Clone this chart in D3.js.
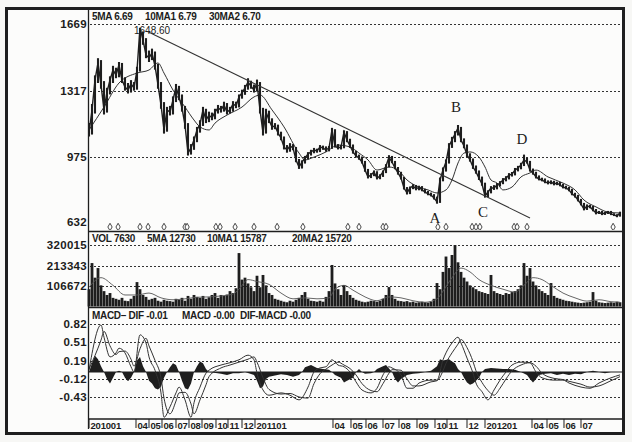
<!DOCTYPE html>
<html><head><meta charset="utf-8">
<script src="https://cdn.jsdelivr.net/npm/d3@7"></script>
<style>
html,body{margin:0;padding:0;background:#f7f7f5;}
svg{display:block;}
text{font-family:"Liberation Sans",Arial,sans-serif;fill:#1c1c1c;}
</style></head><body>
<svg id="c" width="632" height="442"></svg>
<script>
// ---------- DATA ----------
const closePx = [
1098,1219,1376,1465,1350,1219,1313,1376,1428,1402,
1454,1376,1339,1323,1355,1334,1428,1648.6,1585,1507,
1491,1517,1449,1350,1245,1114,1219,1208,1271,1339,
1287,1229,1140,993,1020,1061,1114,1145,1219,1166,
1192,1177,1208,1229,1219,1245,1208,1219,1250,1240,
1287,1308,1334,1365,1344,1323,1360,1219,1098,1208,
1166,1130,1135,1098,1072,1025,1009,1030,1020,957,
920,946,967,988,999,1009,1004,1025,1020,1009,
1020,1114,1030,1020,1025,1103,1061,1030,999,978,
967,946,904,868,878,894,862,873,894,925,
972,946,915,889,862,810,784,810,821,805,
815,800,789,779,773,758,737,852,904,946,
1030,1061,1093,1124,1061,1030,983,957,920,894,
862,831,768,789,810,810,826,836,852,862,
878,883,904,915,931,957,946,904,889,868,
857,852,842,836,842,831,836,826,815,810,
800,779,768,747,726,700,716,711,695,679,
684,674,679,684,674,669,663,679];

const highPx = [
1150,1250,1400,1490,1480,1370,1335,1395,1450,1440,
1470,1465,1390,1360,1375,1365,1445,1648.6,1630,1595,
1530,1540,1525,1460,1365,1260,1235,1240,1290,1355,
1345,1300,1240,1150,1040,1080,1130,1165,1235,1225,
1210,1205,1225,1245,1240,1262,1255,1235,1265,1262,
1300,1325,1350,1385,1372,1352,1378,1365,1230,1225,
1215,1175,1150,1142,1105,1080,1035,1045,1040,1025,
962,955,978,998,1010,1020,1016,1035,1032,1028,
1030,1125,1118,1040,1035,1112,1108,1068,1038,1005,
985,975,952,910,888,902,898,882,902,935,
982,978,952,920,895,868,815,818,830,826,
822,820,806,795,786,778,765,865,918,960,
1045,1078,1108,1140,1130,1070,1038,992,965,928,
902,870,838,798,820,825,836,846,862,872,
888,894,915,926,942,985,968,952,912,895,
876,864,860,850,850,848,843,842,832,822,
816,806,785,774,753,732,724,722,716,700,
690,690,685,690,690,678,673,686];

const lowPx = [
1080,1090,1200,1360,1330,1195,1205,1300,1360,1385,
1390,1360,1320,1305,1310,1320,1325,1420,1560,1490,
1470,1480,1430,1330,1225,1095,1105,1190,1195,1260,
1270,1210,1120,980,985,1010,1050,1100,1135,1150,
1155,1165,1170,1200,1205,1210,1195,1200,1210,1228,
1232,1278,1298,1325,1330,1310,1315,1200,1085,1095,
1150,1115,1118,1085,1060,1012,995,1000,1008,945,
910,912,938,960,980,992,995,998,1010,1000,
1002,1015,1022,1012,1012,1018,1050,1020,990,970,
958,938,895,860,862,872,855,856,868,888,
918,940,908,880,855,802,776,778,804,798,
798,793,782,772,766,750,728,732,845,896,
938,1020,1050,1085,1050,1018,972,948,910,885,
852,822,760,762,782,800,803,818,830,845,
855,870,876,897,908,925,938,896,880,860,
850,845,835,829,830,824,825,819,808,803,
793,772,760,740,719,693,695,704,688,672,
674,668,669,674,668,663,657,660];

const maIdx = [0,5,10,16,20,23,25,28,32,35,37,40,42,46,51,55,57,61,65,70,72,75,79,83,87,90,93,96,100,103,106,110,113,116,119,121,123,125,127,130,132,134,136,138,141,144,147,149,153,158,162,165,169,173,177];
const maVal = [1114,1234,1360,1412,1428,1465,1412,1323,1234,1166,1130,1114,1150,1192,1234,1287,1297,1219,1130,993,957,972,999,1035,1025,993,957,904,920,904,852,815,800,784,800,852,941,993,999,972,920,852,836,800,815,868,889,904,868,836,800,747,711,684,679];

const volume = [
90000,226000,150000,200000,110000,80000,60000,70000,45000,40000,
35000,45000,30000,28000,40000,55000,127000,90000,60000,50000,
35000,40000,45000,30000,25000,35000,30000,28000,25000,40000,
35000,45000,30000,55000,40000,60000,50000,45000,55000,40000,
48000,60000,70000,45000,60000,55000,62000,80000,70000,95000,
278000,140000,150000,120000,100000,80000,160000,100000,164000,110000,
70000,60000,40000,35000,30000,25000,22000,30000,25000,35000,
45000,60000,75000,40000,30000,28000,25000,30000,25000,50000,
80000,216000,120000,90000,60000,112000,80000,60000,45000,35000,
30000,25000,22000,25000,30000,28000,25000,30000,40000,60000,
101000,60000,40000,30000,28000,25000,28000,22000,25000,20000,
22000,25000,22000,20000,25000,40000,122000,90000,180000,260000,
200000,268000,320000,230000,180000,150000,130000,110000,100000,90000,
80000,75000,70000,65000,164000,80000,70000,65000,60000,70000,
65000,75000,80000,90000,110000,226000,160000,200000,130000,110000,
90000,80000,70000,60000,122000,55000,45000,40000,35000,30000,
28000,25000,22000,20000,18000,20000,22000,25000,75000,30000,
22000,20000,18000,20000,22000,20000,25000,22000];

const vmaIdx = [0,4,8,12,16,20,24,28,32,36,40,44,48,50,53,56,60,64,68,72,76,80,82,85,88,92,96,100,104,108,112,116,118,121,124,127,130,134,138,142,145,148,151,154,158,162,166,170,174,177];
const vmaVal = [100000,150000,110000,60000,60000,70000,45000,35000,40000,48000,50000,55000,65000,90000,140000,130000,115000,70000,40000,45000,40000,45000,90000,110000,85000,50000,30000,50000,45000,30000,22000,40000,80000,150000,200000,180000,140000,110000,90000,75000,110000,150000,140000,110000,70000,45000,28000,35000,25000,22000];

const macdIdx = [0,4,5,7,9,10,12,14,15,17,19,20,22,24,25,27,29,30,32,34,35,37,39,40,44,47,50,53,55,56,58,60,64,67,70,73,75,77,79,81,83,85,87,89,91,94,96,98,100,101,104,106,108,110,114,116,118,119,121,123,124,126,128,129,131,133,135,137,139,141,144,147,149,151,155,158,160,164,167,170,174,177];
const dif = [0.03,0.81,0.60,0.26,0.33,0.41,0.33,0.09,0.00,0.64,0.50,0.26,0.03,-0.36,-0.78,-0.60,-0.36,-0.26,-0.48,-0.78,-0.53,-0.26,-0.02,0.03,0.12,0.16,0.21,0.29,0.21,-0.02,-0.31,-0.40,-0.36,-0.40,-0.48,-0.26,0.00,0.07,0.09,0.21,0.12,0.09,0.00,-0.17,-0.31,-0.36,-0.28,-0.05,0.09,0.07,-0.05,-0.28,-0.28,-0.19,-0.14,-0.14,0.21,0.33,0.50,0.60,0.50,0.24,-0.02,-0.19,-0.34,-0.48,-0.31,-0.14,0.00,0.12,0.17,0.16,0.00,-0.10,-0.14,-0.14,-0.19,-0.26,-0.28,-0.19,-0.10,-0.05];
const dea = [0.05,0.55,0.70,0.45,0.30,0.35,0.36,0.22,0.10,0.40,0.58,0.45,0.20,-0.10,-0.45,-0.72,-0.50,-0.36,-0.35,-0.55,-0.72,-0.48,-0.22,-0.08,0.07,0.12,0.17,0.22,0.26,0.17,-0.10,-0.30,-0.38,-0.37,-0.43,-0.45,-0.20,-0.03,0.05,0.12,0.17,0.12,0.06,-0.05,-0.20,-0.32,-0.34,-0.20,-0.02,0.04,0.03,-0.12,-0.24,-0.24,-0.17,-0.15,0.02,0.15,0.33,0.48,0.56,0.42,0.18,0.02,-0.18,-0.32,-0.40,-0.28,-0.12,0.02,0.12,0.16,0.10,-0.02,-0.11,-0.13,-0.16,-0.21,-0.26,-0.24,-0.15,-0.08];

const histIdx = [0,1,2,3,4,5,6,7,8,9,10,11,12,13,14,15,16,17,18,19,20,21,22,23,24,25,26,27,28,29,30,31,32,33,34,35,36,37,38,39,40,44,46,48,50,52,55,56,57,58,59,60,62,64,66,68,70,71,72,74,76,78,80,81,82,84,85,86,88,89,90,91,92,94,95,96,98,99,100,101,102,103,104,106,108,110,112,114,116,117,118,120,121,122,123,124,125,126,127,128,129,130,131,132,134,136,138,140,142,144,146,147,148,149,150,152,154,156,158,160,162,164,166,168,170,172,174,177];
const histVal = [0,0.15,0.28,0.22,0.1,0,-0.12,-0.2,-0.1,0,0.02,0,-0.1,-0.16,-0.1,0,0.2,0.26,0.1,0,-0.15,-0.2,-0.28,-0.3,-0.25,-0.1,0,0.08,0.15,0.12,0,-0.15,-0.28,-0.3,-0.2,0,0.1,0.18,0.15,0.05,0,-0.03,-0.05,-0.02,-0.02,0,-0.05,-0.15,-0.28,-0.25,-0.12,-0.08,-0.06,-0.04,-0.05,-0.08,-0.05,0,0.08,0.12,0.07,0.05,0.04,0,-0.05,-0.1,-0.18,-0.15,-0.1,0,0.05,0,-0.03,-0.02,0,0.05,0.1,0.12,0.06,0,-0.12,-0.18,-0.12,-0.05,-0.03,-0.02,0,0.02,0.1,0.22,0.2,0.22,0.18,0.15,0.05,0,-0.1,-0.18,-0.22,-0.2,-0.15,-0.1,0,0.05,0.07,0.06,0.05,0.05,0.04,0,-0.05,-0.12,-0.18,-0.12,-0.05,-0.03,-0.02,-0.05,-0.03,-0.05,-0.03,-0.04,0,0.02,0,-0.02,0,0];

const priceTicks = [1669,1317,975,632];
const priceGrid = [1669,1317,975];
const volTicks = [320015,213343,106672];
const macdTicks = [0.82,0.51,0.19,-0.12,-0.43];

const monthLabels = ["201001","04","05","06","07","08","09","10","11","12","201101","04","05","06","07","08","09","10","11","12","201201","04","05","06","07"];
const monthPos = [0,15.67,20,24.33,29,33.33,37.67,42.33,46.33,51,55.33,81.33,87.33,92.33,98,103.33,109.33,115.33,119.33,126,132,147.67,152.67,158.33,164];

const signalIdx = [7,9.7,17,19.7,25,32,32.7,42.3,43.7,48.7,55,62.7,71.3,86.3,90,98,99,116.3,119,127.7,129,130.3,141.7,142.7,146,174.7];

const trendIdx = [19.5,147];
const trendVal = [1630,653];

const waveLabels = ["A","B","C","D"];
const waveIdx = [116,123,132,145];
const waveAt = ["low","high","low","high"];

const peakLabel = "1648.60";
const peakIdx = 17;

// ---------- DRAW ----------
const svg = d3.select("#c");
const ink = "#1e1e1e";
const L = 89, R = 620, RE = 623;
const x = d3.scaleLinear().domain([0, closePx.length-1]).range([L, R]);
const yP = d3.scaleLinear().domain([632,1669]).range([222,24]);
const yV = d3.scaleLinear().domain([0,320015]).range([306.5,245]);
const yM = d3.scaleLinear().domain([0,0.82]).range([372,324.4]);

svg.append("rect").attr("x",0).attr("y",0).attr("width",632).attr("height",442).attr("fill","#f7f7f5");
svg.append("rect").attr("x",6.5).attr("y",8.5).attr("width",617).attr("height",425).attr("fill","#fcfcfb");

const defs = svg.append("defs");
defs.append("clipPath").attr("id","cp").append("rect").attr("x",L).attr("y",11).attr("width",RE-L).attr("height",219);
defs.append("clipPath").attr("id","cm").append("rect").attr("x",L).attr("y",309).attr("width",RE-L).attr("height",109);

function grid(scale, vals){
  svg.append("g").selectAll("line").data(vals).join("line")
    .attr("x1",L+1).attr("x2",RE).attr("y1",d=>Math.round(scale(d))+0.5).attr("y2",d=>Math.round(scale(d))+0.5)
    .attr("stroke","#333").attr("stroke-width",1).attr("stroke-dasharray","2,2");
}
function leftLabels(scale, vals, fmt){
  svg.append("g").selectAll("text").data(vals).join("text")
    .attr("x",87).attr("y",d=>scale(d)+4).attr("text-anchor","end")
    .attr("font-size",11.5).attr("font-weight","bold").attr("letter-spacing","0.3")
    .text(fmt);
}
grid(yP, priceGrid); grid(yV, volTicks); grid(yM, macdTicks);
leftLabels(yP, priceTicks, d=>d);
leftLabels(yV, volTicks, d=>d);
leftLabels(yM, macdTicks, d=>d.toFixed(2));

// price panel
const gp = svg.append("g").attr("clip-path","url(#cp)");
gp.append("text").attr("x",x(peakIdx)-6).attr("y",yP(1648.6)+6).attr("font-size",10).text(peakLabel);
gp.append("path").datum(maIdx.map((d,i)=>[d,maVal[i]]))
  .attr("d",d3.line().x(d=>x(d[0])).y(d=>yP(d[1])).curve(d3.curveMonotoneX))
  .attr("fill","none").attr("stroke","#333").attr("stroke-width",1);
gp.selectAll("line.bar").data(closePx).join("line").attr("class","bar")
  .attr("x1",(d,i)=>x(i)).attr("x2",(d,i)=>x(i))
  .attr("y1",(d,i)=>yP(highPx[i])).attr("y2",(d,i)=>yP(lowPx[i]))
  .attr("stroke",ink).attr("stroke-width",2.1);
gp.append("path").datum(closePx)
  .attr("d",d3.line().x((d,i)=>x(i)).y(d=>yP(d)))
  .attr("fill","none").attr("stroke",ink).attr("stroke-width",1.4);
gp.append("line").attr("x1",x(trendIdx[0])).attr("y1",yP(trendVal[0])).attr("x2",x(trendIdx[1])).attr("y2",yP(trendVal[1]))
  .attr("stroke","#333").attr("stroke-width",1.1);
gp.selectAll("path.sig").data(signalIdx).join("path").attr("class","sig")
  .attr("transform",d=>`translate(${x(d)},227)`)
  .attr("d",d3.symbol(d3.symbolDiamond,16))
  .attr("fill","#fff").attr("stroke","#333").attr("stroke-width",0.9);
svg.append("g").selectAll("text").data(waveLabels).join("text")
  .attr("x",(d,i)=>x(waveIdx[i])-2)
  .attr("y",(d,i)=>yP(closePx[waveIdx[i]]) + (waveAt[i]==="low"? 21 : -16))
  .attr("text-anchor","middle").attr("font-size",15)
  .style("font-family","'Liberation Serif','Times New Roman',serif")
  .text(d=>d);

// volume panel
svg.append("g").selectAll("rect").data(volume).join("rect")
  .attr("x",(d,i)=>x(i)-1.4).attr("width",2.8)
  .attr("y",d=>yV(d)).attr("height",d=>yV(0)-yV(d)).attr("fill",ink);
svg.append("path").datum(vmaIdx.map((d,i)=>[d,vmaVal[i]]))
  .attr("d",d3.line().x(d=>x(d[0])).y(d=>yV(d[1])).curve(d3.curveMonotoneX))
  .attr("fill","none").attr("stroke","#555").attr("stroke-width",0.9);

// macd panel
const gm = svg.append("g").attr("clip-path","url(#cm)");
gm.append("path").datum(histIdx.map((d,i)=>[d,histVal[i]]))
  .attr("d",d3.area().x(d=>x(d[0])).y0(yM(0)).y1(d=>yM(d[1])))
  .attr("fill",ink);
gm.append("line").attr("x1",L).attr("x2",RE).attr("y1",yM(0)).attr("y2",yM(0)).attr("stroke",ink).attr("stroke-width",1);
[dif, dea].forEach(arr=>{
  gm.append("path").datum(macdIdx.map((d,i)=>[d,arr[i]]))
    .attr("d",d3.line().x(d=>x(d[0])).y(d=>yM(d[1])).curve(d3.curveMonotoneX))
    .attr("fill","none").attr("stroke","#333").attr("stroke-width",1);
});

// panel lines
const sep = (y1,y2,x1,x2,w)=>svg.append("line").attr("x1",x1).attr("x2",x2).attr("y1",y1).attr("y2",y2).attr("stroke",ink).attr("stroke-width",w);
sep(231.5,231.5,L,RE,1.6);
sep(307.5,307.5,L,RE,1.6);
sep(419,419,L,RE,1.4);
sep(10,429,L-0.5,L-0.5,1.3);

// date axis
const ga = svg.append("g");
ga.selectAll("line").data(monthPos).join("line")
  .attr("x1",d=>x(d)).attr("x2",d=>x(d)).attr("y1",419).attr("y2",428)
  .attr("stroke",ink).attr("stroke-width",1);
ga.selectAll("text").data(monthLabels).join("text")
  .attr("x",(d,i)=>x(monthPos[i])+1.5).attr("y",429)
  .attr("font-size",9.5).attr("font-weight","bold").attr("letter-spacing","-0.2")
  .text(d=>d);

// headers
const hdr = (items,y)=>svg.append("g").selectAll("text").data(items).join("text")
  .attr("x",d=>d[0]).attr("y",y).attr("font-size",10).attr("font-weight","bold").attr("letter-spacing","-0.3").text(d=>d[1]);
hdr([[92,"5MA 6.69"],[145,"10MA1 6.79"],[209,"30MA2 6.70"]], 20);
hdr([[92,"VOL 7630"],[147,"5MA 12730"],[207,"10MA1 15787"],[292,"20MA2 15720"]], 242);
hdr([[92,"MACD– DIF -0.01"],[182,"MACD -0.00"],[240,"DIF-MACD -0.00"]], 319);

// outer frame
svg.append("rect").attr("x",6.5).attr("y",8.5).attr("width",617).attr("height",425)
  .attr("fill","none").attr("stroke",ink).attr("stroke-width",3);
</script>
</body></html>
